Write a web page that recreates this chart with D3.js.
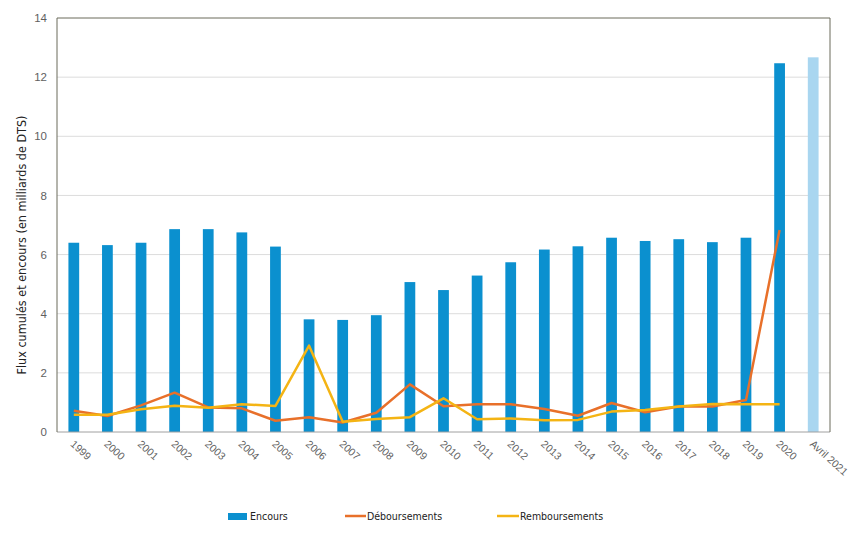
<!DOCTYPE html>
<html>
<head>
<meta charset="utf-8">
<script src="https://cdn.jsdelivr.net/npm/d3@7"></script>
<style>
  body { margin: 0; background: #fff; }
  svg { display: block; font-family: "Liberation Sans Narrow", "DejaVu Sans Condensed", "Roboto", sans-serif; }
</style>
</head>
<body>
<svg id="chart" width="850" height="539"></svg>
<script>
const years = ['1999', '2000', '2001', '2002', '2003', '2004', '2005', '2006', '2007', '2008', '2009', '2010',
  '2011', '2012', '2013', '2014', '2015', '2016', '2017', '2018', '2019', '2020', 'Avril 2021'];

const encours = [6.40, 6.32, 6.40, 6.86, 6.86, 6.75, 6.27, 3.81, 3.79, 3.95, 5.07, 4.80,
  5.29, 5.74, 6.17, 6.28, 6.57, 6.46, 6.52, 6.42, 6.57, 12.47, 12.67];

// lines stop at 2020
const deboursements = [0.72, 0.54, 0.90, 1.33, 0.83, 0.80, 0.38, 0.50, 0.32, 0.65, 1.61, 0.87,
  0.94, 0.94, 0.78, 0.55, 0.98, 0.67, 0.86, 0.86, 1.08, 6.83];

const remboursements = [0.58, 0.58, 0.77, 0.89, 0.82, 0.94, 0.88, 2.92, 0.35, 0.44, 0.50, 1.14,
  0.43, 0.46, 0.40, 0.41, 0.69, 0.74, 0.86, 0.95, 0.94, 0.94];

const yTicks = [0, 2, 4, 6, 8, 10, 12, 14];

const svg = d3.select('#chart');
const margin = { left: 57, right: 20, top: 18, bottom: 107 };
const width = 850, height = 539;
const plotW = width - margin.left - margin.right;
const plotH = height - margin.top - margin.bottom;

const x = d3.scaleBand()
  .domain(years)
  .range([margin.left, margin.left + plotW])
  .paddingInner(0.68)
  .paddingOuter(0.34);

const y = d3.scaleLinear()
  .domain([0, 14])
  .range([margin.top + plotH, margin.top]);

const cx = d => x(d) + x.bandwidth() / 2;

// gridlines
svg.append('g')
  .selectAll('line')
  .data(yTicks.filter(t => t > 0 && t < 14))
  .join('line')
  .attr('x1', margin.left)
  .attr('x2', margin.left + plotW)
  .attr('y1', d => y(d))
  .attr('y2', d => y(d))
  .attr('stroke', '#dcdcdc')
  .attr('stroke-width', 1);

// bars
svg.append('g')
  .selectAll('rect')
  .data(years)
  .join('rect')
  .attr('x', d => x(d))
  .attr('width', x.bandwidth())
  .attr('y', (d, i) => y(encours[i]))
  .attr('height', (d, i) => y(0) - y(encours[i]))
  .attr('fill', d => d === 'Avril 2021' ? '#a9d6f0' : '#0b90cf');

// lines
const line = d3.line()
  .x((d, i) => cx(years[i]))
  .y(d => y(d));

svg.append('path')
  .datum(deboursements)
  .attr('d', line)
  .attr('fill', 'none')
  .attr('stroke', '#e8702a')
  .attr('stroke-width', 2.5)
  .attr('stroke-linejoin', 'round');

svg.append('path')
  .datum(remboursements)
  .attr('d', line)
  .attr('fill', 'none')
  .attr('stroke', '#f4b414')
  .attr('stroke-width', 2.5)
  .attr('stroke-linejoin', 'round');

// frame
svg.append('line')
  .attr('x1', margin.left).attr('x2', margin.left + plotW)
  .attr('y1', y(0)).attr('y2', y(0))
  .attr('stroke', '#a0a0a0');
svg.append('path')
  .attr('d', `M${margin.left},${y(0)}V${margin.top}H${margin.left + plotW}V${y(0)}`)
  .attr('fill', 'none')
  .attr('stroke', '#6b6b5b')
  .attr('stroke-width', 1);

// y axis labels
const yAxis = d3.axisLeft(y).tickValues(yTicks).tickSize(0).tickPadding(10);
svg.append('g')
  .attr('transform', `translate(${margin.left},0)`)
  .call(yAxis)
  .call(g => g.select('.domain').remove())
  .call(g => g.selectAll('text')
    .attr('fill', '#5f5f5f')
    .attr('font-size', 11.5)
    .style('font-family', 'inherit'));

// x axis labels
const xAxis = d3.axisBottom(x).tickSize(0).tickPadding(0);
svg.append('g')
  .attr('transform', `translate(0,${y(0)})`)
  .call(xAxis)
  .call(g => g.select('.domain').remove())
  .call(g => g.selectAll('text')
    .attr('fill', '#5f5f5f')
    .attr('font-size', 10.5)
    .style('font-family', 'inherit')
    .attr('text-anchor', 'start')
    .attr('dy', 0)
    .attr('y', 0)
    .attr('transform', 'translate(-4,13) rotate(42)'));

// y title
svg.append('text')
  .attr('transform', 'translate(26,245) rotate(-90)')
  .attr('text-anchor', 'middle')
  .attr('font-size', 12.5)
  .attr('fill', '#222')
  .text('Flux cumulés et encours (en milliards de DTS)');

// legend
const legendY = 516;
const legend = svg.append('g').attr('font-size', 10.5).attr('fill', '#222');
legend.append('rect')
  .attr('x', 228).attr('y', legendY - 3).attr('width', 19).attr('height', 7)
  .attr('fill', '#0b90cf');
legend.append('text')
  .attr('x', 250).attr('y', legendY + 4)
  .text('Encours');

legend.append('line')
  .attr('x1', 345).attr('x2', 366).attr('y1', legendY).attr('y2', legendY)
  .attr('stroke', '#e8702a').attr('stroke-width', 2.5);
legend.append('text')
  .attr('x', 367).attr('y', legendY + 4)
  .text('Déboursements');

legend.append('line')
  .attr('x1', 497).attr('x2', 519).attr('y1', legendY).attr('y2', legendY)
  .attr('stroke', '#f4b414').attr('stroke-width', 2.5);
legend.append('text')
  .attr('x', 520).attr('y', legendY + 4)
  .text('Remboursements');
</script>
</body>
</html>
